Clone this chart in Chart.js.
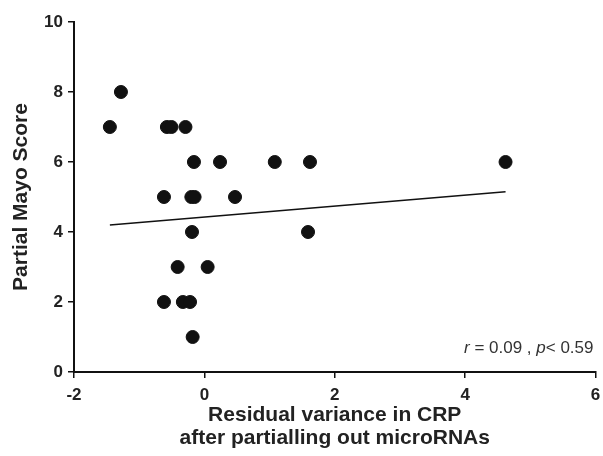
<!DOCTYPE html>
<html>
<head>
<meta charset="utf-8">
<script src="https://cdn.jsdelivr.net/npm/chart.js@4.4.1/dist/chart.umd.min.js"></script>
<style>
  html, body { margin: 0; padding: 0; background: #fff; }
  #wrap { width: 603px; height: 456px; }
</style>
</head>
<body>
<div id="wrap"><canvas id="myChart" width="603" height="456"></canvas></div>
<script>
// values
const residualCRP = [-1.45, -1.28, -0.575, -0.505, -0.29, -0.16, 0.24, 1.08, 1.62, 4.62, -0.62, -0.2, -0.15, 0.47, -0.19, 1.59, -0.41, 0.05, -0.62, -0.33, -0.22, -0.18];
const mayoScore   = [7, 8, 7, 7, 7, 6, 6, 6, 6, 6, 5, 5, 5, 5, 4, 4, 3, 3, 2, 2, 2, 1];
const fitX = [-1.45, 4.62];
const fitY = [4.2, 5.15];
const xTicks = [-2, 0, 2, 4, 6];
const yTicks = [0, 2, 4, 6, 8, 10];
const statText = ['r', ' = 0.09 , ', 'p', '< 0.59'];

const points = residualCRP.map((x, i) => ({ x: x, y: mayoScore[i] }));
const fitLine = fitX.map((x, i) => ({ x: x, y: fitY[i] }));

const font = "'Liberation Sans', Arial, sans-serif";

// r = ..., p < ... in the lower right corner
const statLabel = {
	id: 'statLabel',
	afterDatasetsDraw(chart) {
		const c = chart.ctx;
		const xs = chart.scales.x, ys = chart.scales.y;
		c.save();
		c.fillStyle = '#333';
		c.textBaseline = 'middle';
		const y = ys.getPixelForValue(0.68);
		let parts = statText.map((t, i) => ({ t: t, f: (i % 2 === 0 ? 'italic ' : '') + '17px ' + font }));
		let total = 0;
		parts.forEach(p => { c.font = p.f; p.w = c.measureText(p.t).width; total += p.w; });
		let x = xs.right - total - 2;
		parts.forEach(p => { c.font = p.f; c.fillText(p.t, x, y); x += p.w; });
		c.restore();
	}
};

const ctx = document.getElementById('myChart').getContext('2d');

new Chart(ctx, {
	type: 'scatter',
	data: {
		datasets: [{
			data: points,
			backgroundColor: '#111',
			borderColor: '#111',
			pointRadius: 6.5,
			pointHoverRadius: 6.5
		}, {
			type: 'line',
			data: fitLine,
			borderColor: '#111',
			borderWidth: 1.5,
			pointRadius: 0,
			fill: false
		}]
	},
	options: {
		responsive: false,
		animation: false,
		layout: { padding: { top: 22, right: 0, left: 0, bottom: 0 } },
		plugins: {
			legend: { display: false },
			tooltip: { enabled: false }
		},
		scales: {
			x: {
				type: 'linear',
				min: -2,
				max: 6,
				afterBuildTicks: s => { s.ticks = xTicks.map(v => ({ value: v })); },
				afterFit: s => { s.height = 84; s.paddingRight = 3; s.paddingLeft = 0; },
				grid: { drawOnChartArea: false, drawTicks: true, tickLength: 6, color: '#111', lineWidth: 1.5 },
				border: { display: true, color: '#111', width: 2 },
				ticks: { color: '#222', padding: 7, font: { family: font, size: 17, weight: 'bold' } },
				title: {
					display: true,
					text: ['Residual variance in CRP', 'after partialling out microRNAs'],
					color: '#222',
					padding: { top: 0, bottom: 6 },
					font: { family: font, size: 21, weight: 'bold', lineHeight: 1.1 }
				}
			},
			y: {
				min: 0,
				max: 10,
				afterBuildTicks: s => { s.ticks = yTicks.map(v => ({ value: v })); },
				afterFit: s => { s.width = 74; },
				grid: { drawOnChartArea: false, drawTicks: true, tickLength: 6, color: '#111', lineWidth: 1.5 },
				border: { display: true, color: '#111', width: 2 },
				ticks: { color: '#222', padding: 5, font: { family: font, size: 17, weight: 'bold' } },
				title: {
					display: true,
					text: 'Partial Mayo Score',
					color: '#222',
					padding: { top: 9, bottom: 0 },
					font: { family: font, size: 21, weight: 'bold', lineHeight: 1.2 }
				}
			}
		}
	},
	plugins: [statLabel]
});
</script>
</body>
</html>
